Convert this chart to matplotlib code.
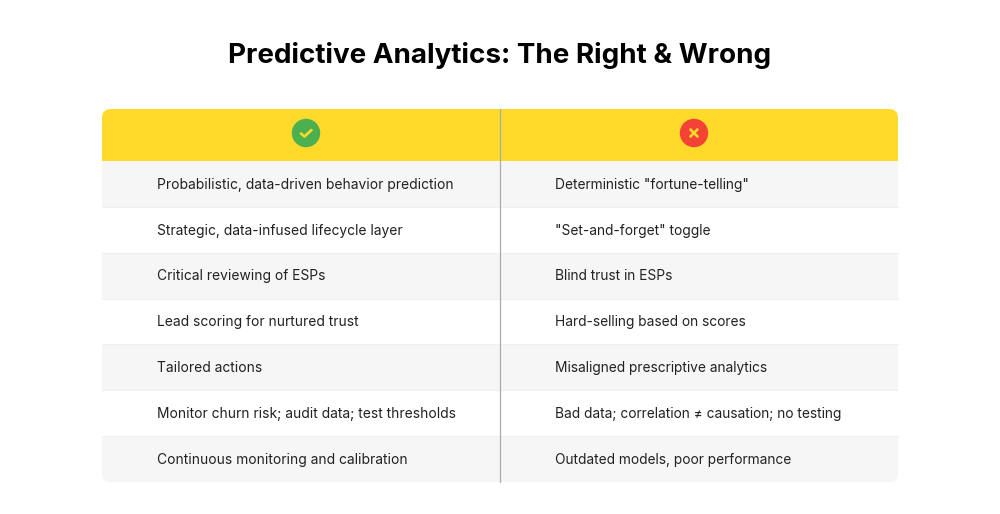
import matplotlib
matplotlib.use("Agg")
import matplotlib.pyplot as plt
from matplotlib.patches import FancyBboxPatch, Rectangle, Circle

title = "Predictive Analytics: The Right & Wrong"
right_items = ["Probabilistic, data-driven behavior prediction",
               "Strategic, data-infused lifecycle layer",
               "Critical reviewing of ESPs",
               "Lead scoring for nurtured trust",
               "Tailored actions",
               "Monitor churn risk; audit data; test thresholds",
               "Continuous monitoring and calibration"]
wrong_items = ['Deterministic "fortune-telling"',
               '"Set-and-forget" toggle',
               "Blind trust in ESPs",
               "Hard-selling based on scores",
               "Misaligned prescriptive analytics",
               "Bad data; correlation \u2260 causation; no testing",
               "Outdated models, poor performance"]

plt.rcParams['font.family'] = ['Inter', 'DejaVu Sans']
fig = plt.figure(figsize=(10, 5.14), dpi=100, facecolor='white')
ax = fig.add_axes([0, 0, 1, 1])
ax.set_xlim(0, 1000); ax.set_ylim(514, 0); ax.axis('off')

L, R, MID = 102, 898, 500
HT, HB, BOT = 109, 161, 482
row_h = (BOT - HB) / len(right_items)

ax.text(500, 55.5, title, ha='center', va='center', fontsize=20, fontweight='bold', color='black')

card = FancyBboxPatch((L, HT), R - L, BOT - HT, boxstyle="round,pad=0,rounding_size=9",
                      fc='#ffffff', ec='none', transform=ax.transData)
ax.add_patch(card)
head = Rectangle((L, HT), R - L, HB - HT, fc='#FFDA2B', ec='none', zorder=1)
ax.add_patch(head); head.set_clip_path(card)
for i, (a, b) in enumerate(zip(right_items, wrong_items)):
    y0 = HB + i * row_h
    shade = '#F6F6F6' if i % 2 == 0 else '#FFFFFF'
    r = Rectangle((L, y0), R - L, row_h, fc=shade, ec='none', zorder=1)
    ax.add_patch(r); r.set_clip_path(card)
    if i:
        ax.plot([L, R], [y0, y0], color='#F0F0F0', lw=0.8, zorder=2)
    ym = y0 + row_h / 2 + 0.8
    ax.text(157, ym, a, ha='left', va='center', fontsize=9.95, color='#222222', zorder=4)
    ax.text(555, ym, b, ha='left', va='center', fontsize=9.9, color='#222222', zorder=4)
ax.plot([MID, MID], [HT, BOT], color='#ABABAB', lw=0.9, zorder=3)

ax.add_patch(Circle((306, 133), 14.2, fc='#4CAF50', ec='none', zorder=4))
ax.plot([301, 304.5, 311.5], [133.5, 136.5, 130], color='#FFDA2B', lw=1.9, zorder=5,
        solid_capstyle='round', solid_joinstyle='round')
ax.add_patch(Circle((694, 133), 14.2, fc='#F44336', ec='none', zorder=4))
ax.plot([690.5, 697.5], [129.5, 136.5], color='#FFDA2B', lw=1.9, zorder=5, solid_capstyle='round')
ax.plot([690.5, 697.5], [136.5, 129.5], color='#FFDA2B', lw=1.9, zorder=5, solid_capstyle='round')

fig.savefig("out.png", dpi=100)
